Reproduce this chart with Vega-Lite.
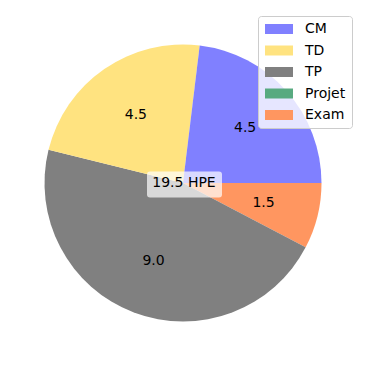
{
  "$schema": "https://vega.github.io/schema/vega-lite/v6.json",
  "width": 366,
  "height": 366,
  "padding": 0,
  "autosize": {"type": "fit", "contains": "padding"},
  "config": {"view": {"stroke": null}, "font": "DejaVu Sans"},
  "data": {
    "values": [
      {"category": "Exam", "value": 1.5, "order": 1, "label": "1.5"},
      {"category": "Projet", "value": 0, "order": 2, "label": "0.0"},
      {"category": "TP", "value": 9.0, "order": 3, "label": "9.0"},
      {"category": "TD", "value": 4.5, "order": 4, "label": "4.5"},
      {"category": "CM", "value": 4.5, "order": 5, "label": "4.5"}
    ]
  },
  "layer": [
    {
      "mark": {"type": "arc", "outerRadius": 138.5},
      "encoding": {
        "theta": {"field": "value", "type": "quantitative", "stack": true, "scale": {"range": [1.5708, 7.854]}},
        "order": {"field": "order", "type": "quantitative"},
        "color": {
          "field": "category",
          "type": "nominal",
          "scale": {
            "domain": ["CM", "TD", "TP", "Projet", "Exam"],
            "range": ["#8080ff", "#ffe380", "#808080", "#58aa80", "#ff9660"]
          },
          "legend": {
            "title": null,
            "orient": "none",
            "legendX": 258,
            "legendY": 16,
            "padding": 6,
            "rowPadding": 7.5,
            "fillColor": "rgba(255,255,255,0.8)",
            "strokeColor": "#cccccc",
            "cornerRadius": 3,
            "symbolType": "M-2,-0.714 L2,-0.714 L2,0.714 L-2,0.714 Z",
            "symbolSize": 196,
            "symbolStrokeWidth": 0,
            "symbolOpacity": 1,
            "symbolOffset": 8,
            "labelOffset": 19,
            "labelFontSize": 14,
            "labelColor": "#000000",
            "labelFont": "DejaVu Sans"
          }
        }
      }
    },
    {
      "transform": [{"filter": "datum.value > 0"}],
      "mark": {"type": "text", "radius": 83, "fontSize": 14, "color": "#000000"},
      "encoding": {
        "theta": {"field": "value", "type": "quantitative", "stack": true, "scale": {"range": [1.5708, 7.854]}},
        "order": {"field": "order", "type": "quantitative"},
        "text": {"field": "label", "type": "nominal"}
      }
    },
    {
      "data": {"values": [{"label": "19.5 HPE"}]},
      "mark": {
        "type": "point",
        "shape": "M-3.45,-1.3 H3.45 Q3.75,-1.3 3.75,-1 V1 Q3.75,1.3 3.45,1.3 H-3.45 Q-3.75,1.3 -3.75,1 V-1 Q-3.75,-1.3 -3.45,-1.3 Z",
        "size": 400,
        "filled": true,
        "fill": "#ffffff",
        "fillOpacity": 0.7,
        "strokeWidth": 0,
        "yOffset": 1.5,
        "xOffset": 1.5
      },
      "encoding": {}
    },
    {
      "data": {"values": [{"label": "19.5 HPE"}]},
      "mark": {"type": "text", "fontSize": 14, "color": "#000000", "xOffset": 1},
      "encoding": {"text": {"field": "label", "type": "nominal"}}
    }
  ]
}
